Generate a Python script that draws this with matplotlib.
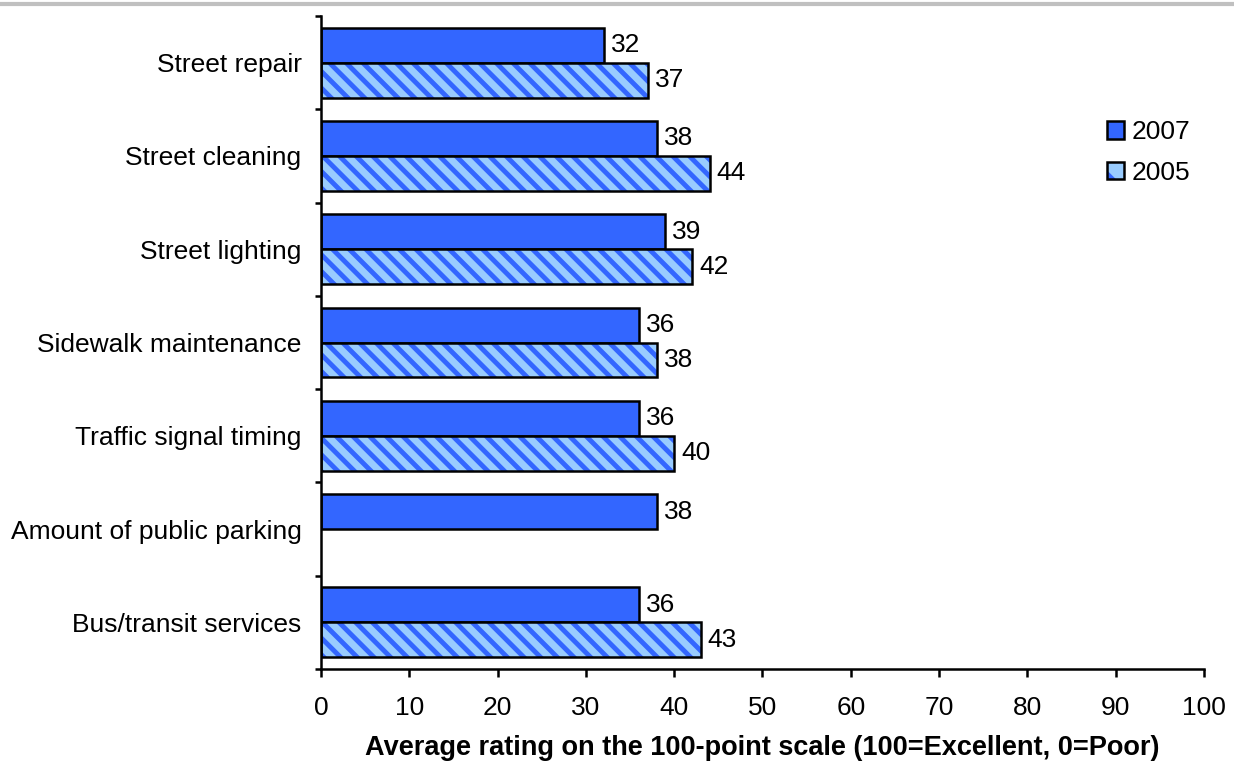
import numpy as np
import matplotlib.pyplot as plt
from matplotlib.lines import Line2D
from matplotlib.patches import Patch
from matplotlib.legend_handler import HandlerTuple

plt.rcParams['font.family'] = ['Liberation Sans', 'DejaVu Sans']
plt.rcParams['hatch.linewidth'] = 3.5

categories = ["Street repair", "Street cleaning", "Street lighting", "Sidewalk maintenance",
              "Traffic signal timing", "Amount of public parking", "Bus/transit services"]
r2007 = [32, 38, 39, 36, 36, 38, 36]
r2005 = [37, 44, 42, 38, 40, np.nan, 43]

c2007 = "#3366FF"
c2005 = "#99CCFF"
fs = 19

fig = plt.figure(figsize=(12.34, 7.66), dpi=100)
ax = fig.add_axes([0.2601, 0.1266, 0.7156, 0.8525])

n = len(categories)
y = np.arange(n)
h = 0.375

ax.barh(y - h / 2, r2007, height=h, color=c2007, edgecolor="black", linewidth=1.8)
# hatched bars: hatch drawn in blue, then a black outline on top
ax.barh(y + h / 2, r2005, height=h, color=c2005, edgecolor=c2007, hatch="\\\\", linewidth=0)
ax.barh(y + h / 2, r2005, height=h, fill=False, edgecolor="black", linewidth=1.8)

for i in range(n):
    ax.text(r2007[i] + 0.8, y[i] - h / 2, str(r2007[i]), va="center", ha="left", fontsize=fs)
    if not np.isnan(r2005[i]):
        ax.text(r2005[i] + 0.8, y[i] + h / 2, str(int(r2005[i])), va="center", ha="left", fontsize=fs)

ax.set_xlim(0, 100)
ax.set_ylim(n - 0.5, -0.5)
ax.set_xticks(np.arange(0, 101, 10))
ax.set_yticks(y)
ax.set_yticklabels(categories, fontsize=fs)
ax.set_yticks(np.arange(n + 1) - 0.5, minor=True)
ax.tick_params(axis="y", which="major", length=0, pad=14)
ax.tick_params(axis="y", which="minor", length=4, width=1.8)
ax.tick_params(axis="x", length=5.5, width=1.8, labelsize=fs, pad=14)
for s in ["top", "right"]:
    ax.spines[s].set_visible(False)
for s in ["left", "bottom"]:
    ax.spines[s].set_linewidth(1.8)

ax.set_xlabel("Average rating on the 100-point scale (100=Excellent, 0=Poor)",
              fontsize=19.5, fontweight="bold", labelpad=11)

h07 = Patch(facecolor=c2007, edgecolor="black", linewidth=1.8)
h05 = (Patch(facecolor=c2005, edgecolor=c2007, hatch="\\", linewidth=0),
       Patch(fill=False, edgecolor="black", linewidth=1.8))
fig.legend([h07, h05], ["2007", "2005"], loc="center left", bbox_to_anchor=(0.886, 0.801),
           frameon=False, fontsize=fs, handlelength=0.65, handleheight=0.65, handletextpad=0.3,
           labelspacing=0.62, borderpad=0, handler_map={tuple: HandlerTuple(ndivide=1, pad=0)})

fig.add_artist(Line2D([0, 1], [0.995, 0.995], color="#C0C0C0", linewidth=3, transform=fig.transFigure))

fig.savefig("out.png", dpi=100)
